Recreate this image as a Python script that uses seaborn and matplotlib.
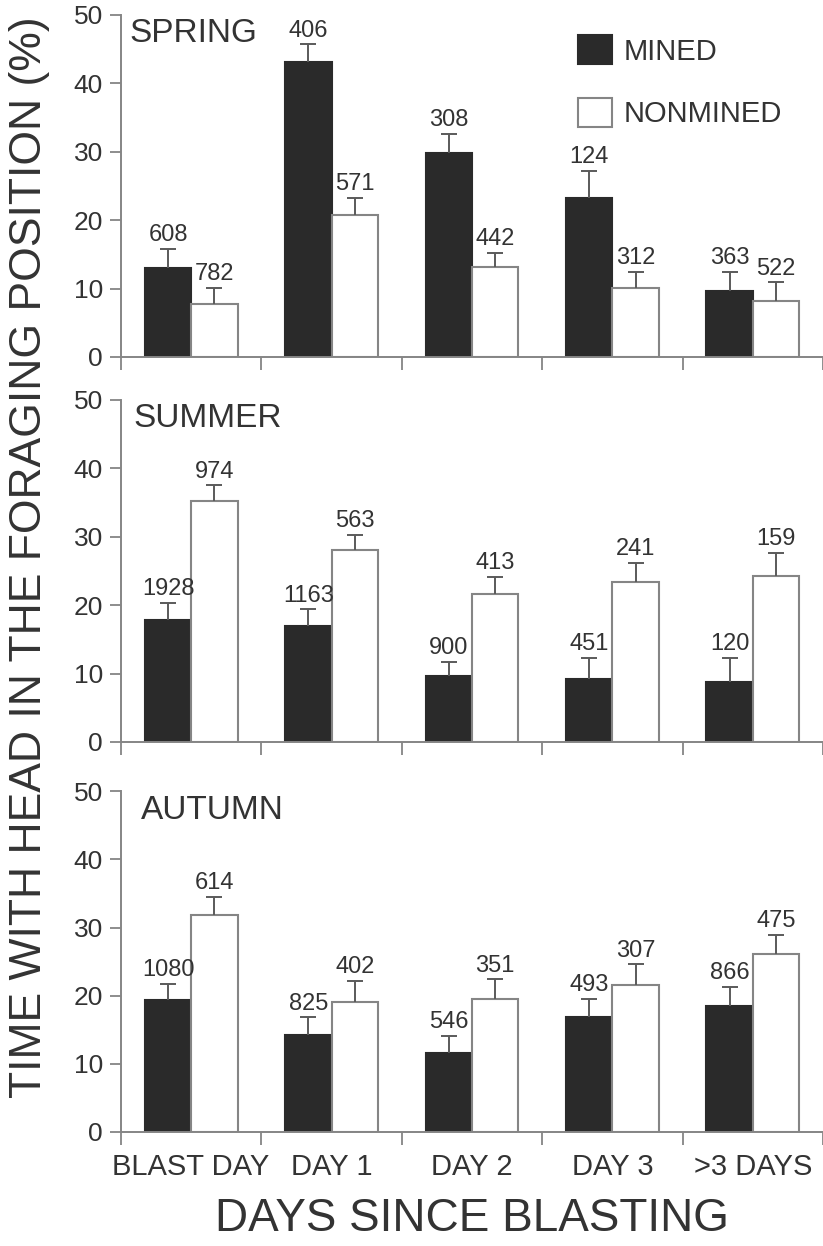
import numpy as np
import pandas as pd
import matplotlib
matplotlib.use("Agg")
import matplotlib.pyplot as plt
from matplotlib.patches import Patch
import seaborn as sns

days = ["BLAST DAY", "DAY 1", "DAY 2", "DAY 3", ">3 DAYS"]
seasons = ["SPRING", "SUMMER", "AUTUMN"]
sites = ["MINED", "NONMINED"]

# mean % time head down, standard error, and n (count labels)
spring_mined = [13.0, 43.1, 29.8, 23.3, 9.6]
spring_mined_se = [2.8, 2.6, 2.8, 3.9, 2.8]
spring_mined_n = [608, 406, 308, 124, 363]
spring_non = [7.8, 20.7, 13.1, 10.1, 8.2]
spring_non_se = [2.3, 2.6, 2.1, 2.3, 2.7]
spring_non_n = [782, 571, 442, 312, 522]

summer_mined = [17.8, 16.9, 9.6, 9.2, 8.8]
summer_mined_se = [2.5, 2.5, 2.1, 3.1, 3.5]
summer_mined_n = [1928, 1163, 900, 451, 120]
summer_non = [35.2, 28.1, 21.7, 23.4, 24.2]
summer_non_se = [2.3, 2.2, 2.4, 2.8, 3.4]
summer_non_n = [974, 563, 413, 241, 159]

autumn_mined = [19.3, 14.2, 11.6, 16.8, 18.5]
autumn_mined_se = [2.4, 2.6, 2.5, 2.7, 2.8]
autumn_mined_n = [1080, 825, 546, 493, 866]
autumn_non = [31.8, 19.1, 19.5, 21.5, 26.1]
autumn_non_se = [2.7, 3.1, 2.9, 3.1, 2.8]
autumn_non_n = [614, 402, 351, 307, 475]

panels = {
    "SPRING": (spring_mined, spring_mined_se, spring_mined_n, spring_non, spring_non_se, spring_non_n),
    "SUMMER": (summer_mined, summer_mined_se, summer_mined_n, summer_non, summer_non_se, summer_non_n),
    "AUTUMN": (autumn_mined, autumn_mined_se, autumn_mined_n, autumn_non, autumn_non_se, autumn_non_n),
}

sns.set_style("ticks")
plt.rcParams["font.family"] = ["Liberation Sans", "DejaVu Sans"]

txt = "#333333"
line = "#858585"
dark = "#2a2a2a"
errc = "#5a5a5a"

fig = plt.figure(figsize=(8.23, 12.46), dpi=100)
# axes boxes in figure fractions (left, bottom, width, height)
boxes = [(0.147, 0.7135, 0.853, 0.2745),
         (0.147, 0.4045, 0.853, 0.2745),
         (0.147, 0.0915, 0.853, 0.2735)]
title_x = [0.012, 0.018, 0.028]

for i, season in enumerate(seasons):
    mined, mse, mn, non, nse, nn = panels[season]
    df = pd.DataFrame({
        "day": days * 2,
        "pct": mined + non,
        "site": ["MINED"] * 5 + ["NONMINED"] * 5,
    })
    ax = fig.add_axes(boxes[i])
    sns.barplot(data=df, x="day", y="pct", hue="site", order=days,
                hue_order=sites, palette={"MINED": dark, "NONMINED": "white"},
                width=0.66, errorbar=None, legend=False, ax=ax,
                saturation=1, linewidth=1.5)
    ses = [mse, nse]
    ns = [mn, nn]
    edges = [dark, line]
    bar_sets = list(ax.containers)[:2]
    for c, cont in enumerate(bar_sets):
        xs, hs = [], []
        for bar in cont:
            bar.set_edgecolor(edges[c])
            xs.append(bar.get_x() + bar.get_width() / 2)
            hs.append(bar.get_height())
        xs = np.array(xs)
        hs = np.array(hs)
        err = np.array(ses[c])
        # upper-only error bar: stem plus a single cap at the top
        ax.vlines(xs, hs, hs + err, color=errc, linewidth=1.4, zorder=1)
        ax.plot(xs, hs + err, linestyle="none", marker="_", markersize=12,
                markeredgewidth=1.4, color=errc, zorder=1)
        for x, h, e, n in zip(xs, hs, err, ns[c]):
            ax.annotate(str(n), (x, h + e), xytext=(0, 2),
                        textcoords="offset points", ha="center", va="bottom",
                        fontsize=17, color=txt)

    ax.set_xlim(-0.5, 4.5)
    ax.set_ylim(0, 50)
    ax.set_yticks([0, 10, 20, 30, 40, 50])
    ax.set_xticks(range(5))
    ax.set_xticks(np.arange(-0.5, 5.0, 1.0), minor=True)
    ax.tick_params(axis="x", which="major", length=0, pad=15, labelsize=21,
                   labelcolor=txt)
    ax.tick_params(axis="x", which="minor", length=9, width=1.3, color=line,
                   direction="out")
    ax.tick_params(axis="y", length=8, width=1.3, color=line, pad=5,
                   labelsize=19, labelcolor=txt)
    if i < 2:
        ax.set_xticklabels([])
    ax.set_xlabel("")
    ax.set_ylabel("")
    sns.despine(ax=ax)
    for s in ["left", "bottom"]:
        ax.spines[s].set_color(line)
        ax.spines[s].set_linewidth(1.4)
    ax.text(title_x[i], 0.99, season, transform=ax.transAxes, ha="left",
            va="top", fontsize=24, color=txt)

    if i == 0:
        handles = [Patch(facecolor=dark, edgecolor=dark, linewidth=1.5),
                   Patch(facecolor="white", edgecolor=line, linewidth=1.5)]
        ax.legend(handles, sites, loc="upper left", bbox_to_anchor=(0.635, 0.975),
                  frameon=False, fontsize=21, handlelength=1.15, handleheight=1.15,
                  labelspacing=1.1, handletextpad=0.4, labelcolor=txt,
                  borderaxespad=0)
    if i == 2:
        ax.set_xlabel("DAYS SINCE BLASTING", fontsize=33, color=txt, labelpad=12)

fig.text(0.036, 0.553, "TIME WITH HEAD IN THE FORAGING POSITION (%)",
         rotation=90, ha="center", va="center", fontsize=32, color=txt)

fig.savefig("out.png", dpi=100)
